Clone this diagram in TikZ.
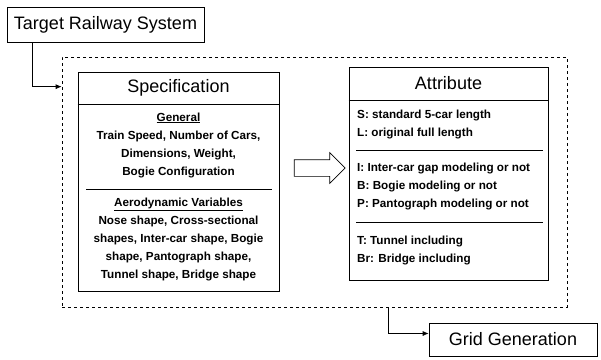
\documentclass[tikz,border=0pt]{standalone}
\usepackage{fontspec}
\setmainfont{Liberation Sans}
\usetikzlibrary{shapes.arrows,arrows.meta}
\begin{document}
\begin{tikzpicture}[x=1pt,y=-1pt,
  box/.style={draw,line width=0.7pt,rectangle,inner sep=0pt},
  head/.style={font=\fontsize{18}{20}\selectfont},
  body/.style={font=\bfseries\fontsize{11.7}{18}\selectfont,inner sep=0pt},
  arr/.style={line width=0.7pt,-{Latex[length=6pt,width=5pt]}},
  divider/.style={line width=0.7pt}]
\useasboundingbox (0,0) rectangle (601,359);
\fill[white] (0,0) rectangle (601,359);
% boxes
\node[box,minimum width=197pt,minimum height=35pt] (target) at (105.5,24.5) {};
\node[head] (targett) at (target.center) {Target Railway System};
\node[draw,dashed,line width=0.7pt,rectangle,minimum width=505pt,minimum height=250pt] (outer) at (314.5,182) {};
\node[box,minimum width=201pt,minimum height=219pt] (spec) at (178.5,181.5) {};
\node[box,minimum width=199pt,minimum height=213pt] (attr) at (448.5,173.5) {};
\node[box,minimum width=168pt,minimum height=33pt] (grid) at (513,339.5) {};
\node[head] (gridt) at (grid.center) {Grid Generation};
% spec contents
\node[head] (spect) at (178.5,88) {Specification};
\draw[divider] (spec.west |- 0,104) -- (spec.east |- 0,104);
\node[body,align=center] (gen) at (178.5,145) {\underline{General}\\Train Speed, Number of Cars,\\Dimensions, Weight,\\Bogie Configuration};
\draw[divider] (86,189) -- (272,189);
\node[body,align=center] (aero) at (178.5,239.5) {\underline{Aerodynamic Variables}\\Nose shape, Cross-sectional\\shapes, Inter-car shape, Bogie\\shape, Pantograph shape,\\Tunnel shape, Bridge shape};
% attribute contents
\node[head] (attrt) at (448.5,83) {Attribute};
\draw[divider] (attr.west |- 0,100) -- (attr.east |- 0,100);
\node[body,align=left,anchor=west] (len) at (357,124.5) {S: standard 5-car length\\L: original full length};
\draw[divider] (356,150) -- (543,150);
\node[body,align=left,anchor=west] (mod) at (357,186) {I: Inter-car gap modeling or not\\B: Bogie modeling or not\\P: Pantograph modeling or not};
\draw[divider] (356,222) -- (543,222);
\node[body,align=left,anchor=west] (inc) at (357,250) {T: Tunnel including\\Br: Bridge including};
% hollow arrow
\node[single arrow,draw,line width=0.7pt,inner sep=0pt,text height=16pt,text depth=0pt,minimum height=51pt,single arrow head extend=7pt] (flow) at (315.5,168) {};
% connectors
\draw[arr] ([xshift=26pt]target.south west) |- ([yshift=-30pt]outer.north west);
\draw[arr] ([xshift=327pt]outer.south west) |- ([yshift=6pt]grid.west);
\end{tikzpicture}
\end{document}
